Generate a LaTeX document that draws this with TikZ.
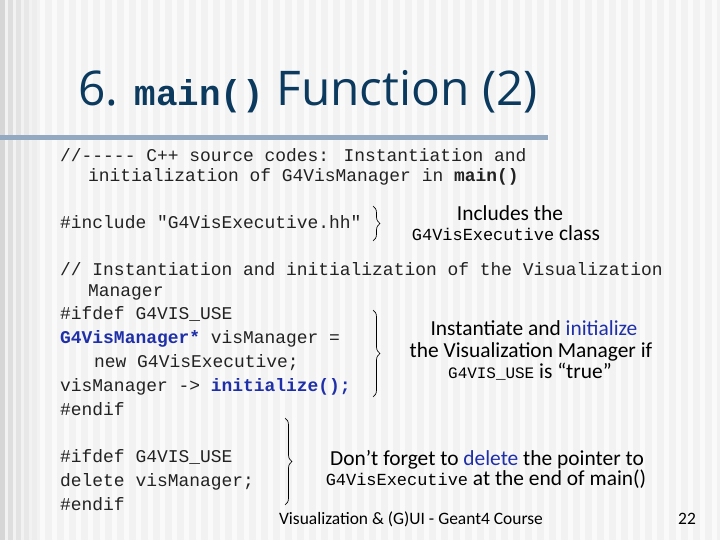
\documentclass[tikz,border=0pt]{standalone}
\usepackage{fontspec}
\setmainfont{Carlito}
\newfontfamily\codef{Liberation Mono}
\newfontfamily\titf{Open Sans}
\usetikzlibrary{decorations.pathreplacing}
\definecolor{bg}{HTML}{F2F2F2}
\definecolor{stripe}{HTML}{FAFAFA}
\definecolor{titc}{HTML}{0B3A5E}
\definecolor{barc}{HTML}{93A9C2}
\definecolor{kw}{HTML}{1F2FA8}
\definecolor{codec}{HTML}{222222}
\tikzset{
 code/.style={anchor=base west,inner sep=0,font=\codef\fontsize{18}{20}\selectfont,text=codec},
 note/.style={anchor=base,inner sep=0,align=center,font=\fontsize{21.5}{24}\selectfont},
 brc/.style={decorate,decoration={brace,amplitude=7pt},line width=0.7pt}
}
\begin{document}
\begin{tikzpicture}[x=1bp,y=-1bp]
\useasboundingbox (0,0) rectangle (720,540);
\fill[bg] (0,0) rectangle (720,540);
\foreach \x in {40,52,...,720} \fill[stripe] (\x,0) rectangle (\x+5,540);
\foreach \x/\c in {0/16,8/13,16/11,24/9,32/7} \fill[black!\c] (\x,0) rectangle (\x+5,540);
\fill[barc] (0,135) rectangle (548,140);
\node[anchor=base west,inner sep=0,text=titc,font=\titf\fontsize{48}{52}\selectfont] (title) at (78,106) {6. {\codef\bfseries\fontsize{36}{40}\selectfont main()} Function (2)};
\node[code] (c1) at (60,162) {//----- C++ source codes: Instantiation and};
\node[code] (c2) at (88,182) {initialization of G4VisManager in \textbf{main()}};
\node[code] (inc) at (60,229) {\#include "G4VisExecutive.hh"};
\node[code] (c3) at (60,276) {// Instantiation and initialization of the Visualization};
\node[code] (c4) at (88,296) {Manager};
\node[code] (c5) at (60,319) {\#ifdef G4VIS\_USE};
\node[code] (c6) at (60,343) {\textcolor{kw}{\textbf{G4VisManager*}} visManager =};
\node[code] (c7) at (94,367) {new G4VisExecutive;};
\node[code] (c8) at (60,391) {visManager -> \textcolor{kw}{\textbf{initialize();}}};
\node[code] (c9) at (60,415) {\#endif};
\node[code] (d1) at (60,462) {\#ifdef G4VIS\_USE};
\node[code] (d2) at (60,486) {delete visManager;};
\node[code] (d3) at (60,510) {\#endif};
\coordinate (b1t) at (373,206); \coordinate (b1b) at (373,241);
\draw[brc] (b1t) -- (b1b);
\coordinate (b2t) at (373,310); \coordinate (b2b) at (373,397);
\draw[brc] (b2t) -- (b2b);
\coordinate (b3t) at (285,418); \coordinate (b3b) at (285,505);
\draw[brc] (b3t) -- (b3b);
\node[note] (n1) at (510,221) {Includes the};
\node[note] (n2) at (506,241) {{\codef\fontsize{17}{18}\selectfont G4VisExecutive} class};
\node[note] (n3) at (534,335) {Instantiate and \textcolor{kw}{initialize}};
\node[note] (n4) at (531,357) {the Visualization Manager if};
\node[note] (n5) at (530,378) {{\codef\fontsize{16}{18}\selectfont G4VIS\_USE} is “true”};
\node[note] (n6) at (487,465) {Don’t forget to \textcolor{kw}{delete} the pointer to};
\node[note] (n7) at (486,485) {{\codef\fontsize{17}{18}\selectfont G4VisExecutive} at the end of main()};
\node[anchor=base,inner sep=0,font=\fontsize{17.5}{18}\selectfont] (foot) at (411,524) {Visualization \& (G)UI - Geant4 Course};
\node[anchor=base,inner sep=0,font=\fontsize{17.5}{18}\selectfont] (pg) at (687,524) {22};
\end{tikzpicture}
\end{document}
